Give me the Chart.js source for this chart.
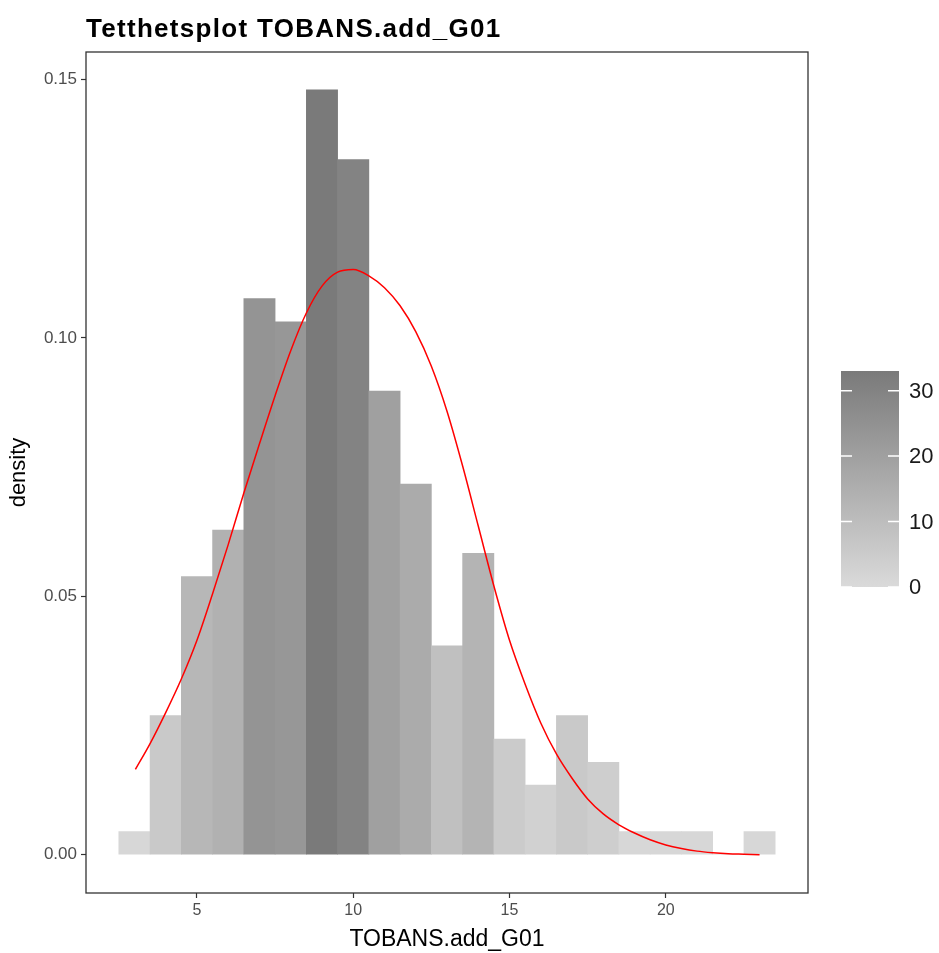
<!DOCTYPE html>
<html>
<head>
<meta charset="utf-8">
<script src="https://cdn.jsdelivr.net/npm/chart.js@4.4.1/dist/chart.umd.min.js"></script>
<style>
  html, body { margin: 0; padding: 0; background: #fff; }
  #wrap { width: 939px; height: 953px; }
</style>
</head>
<body>
<div id="wrap"><canvas id="myDensityPlot"></canvas></div>
<script>
// histogram bins (centres), counts and density
const binCentres = [3, 4, 5, 6, 7, 8, 9, 10, 11, 12, 13, 14, 15, 16, 17, 18, 19, 20, 21, 22, 23];
const binCounts = [1, 6, 12, 14, 24, 23, 33, 30, 20, 16, 9, 13, 5, 3, 6, 4, 1, 1, 1, 0, 1];
const binDensity = [0.0045, 0.0269, 0.0538, 0.0628, 0.1076, 0.1031, 0.1480, 0.1345, 0.0897, 0.0717,
                    0.0404, 0.0583, 0.0224, 0.0135, 0.0269, 0.0179, 0.0045, 0.0045, 0.0045, 0, 0.0045];

// red density curve
const curveX = [3.03, 3.5, 4, 4.5, 5, 5.5, 6, 6.5, 7, 7.5, 8, 8.5, 9, 9.5, 10, 10.5, 11, 11.5, 12, 12.5,
                13, 13.5, 14, 14.5, 15, 15.5, 16, 16.5, 17, 17.5, 18, 18.5, 19, 19.5, 20, 20.5, 21, 21.5, 22, 22.5, 23];
const curveY = [0.0165, 0.0215, 0.0275, 0.0340, 0.0415, 0.0505, 0.0600, 0.0700, 0.0795, 0.0888, 0.0975, 0.1048,
                0.1100, 0.1127, 0.1132, 0.1120, 0.1097, 0.1062, 0.1012, 0.0945, 0.0858, 0.0752, 0.0636, 0.0520,
                0.0415, 0.0330, 0.0255, 0.0195, 0.0148, 0.0108, 0.0079, 0.0058, 0.0042, 0.0029, 0.0019, 0.0012,
                0.0007, 0.0004, 0.0002, 0.0001, 0.0];

const xTicks = [5, 10, 15, 20];
const yTicks = [0, 0.05, 0.10, 0.15];
const legendTicks = [0, 10, 20, 30];
const countMax = 33;

const FONT = '"Liberation Sans", Arial, sans-serif';

function greyFor(count) {
    // low grey at 0, dark grey at max count
    var lo = 218, hi = 122;
    var v = Math.round(lo + (hi - lo) * count / countMax);
    return 'rgb(' + v + ',' + v + ',' + v + ')';
}

// panel border, title and the colourbar legend
const extras = {
    id: 'extras',
    afterDraw(chart) {
        const ctx = chart.ctx;
        const a = chart.chartArea;
        ctx.save();
        ctx.strokeStyle = '#333333';
        ctx.lineWidth = 1.3;
        ctx.strokeRect(a.left, a.top, a.right - a.left, a.bottom - a.top);

        ctx.fillStyle = '#000';
        ctx.font = 'bold 26px ' + FONT;
        ctx.textBaseline = 'alphabetic';
        ctx.textAlign = 'left';
        if ('letterSpacing' in ctx) ctx.letterSpacing = '1.3px';
        ctx.fillText('Tetthetsplot TOBANS.add_G01', 86, 37);
        if ('letterSpacing' in ctx) ctx.letterSpacing = '0px';

        // colourbar
        const bx = 841, bw = 58, top = 371, bottom = 587;
        const grad = ctx.createLinearGradient(0, bottom, 0, top);
        grad.addColorStop(0, greyFor(0));
        grad.addColorStop(1, greyFor(countMax));
        ctx.fillStyle = grad;
        ctx.fillRect(bx, top, bw, bottom - top);
        ctx.strokeStyle = '#ffffff';
        ctx.lineWidth = 1.5;
        ctx.font = '22px ' + FONT;
        ctx.fillStyle = '#1a1a1a';
        ctx.textBaseline = 'middle';
        legendTicks.forEach(function (t) {
            var y = bottom - (bottom - top) * t / countMax;
            ctx.beginPath();
            ctx.moveTo(bx, y); ctx.lineTo(bx + 11, y);
            ctx.moveTo(bx + bw - 11, y); ctx.lineTo(bx + bw, y);
            ctx.stroke();
            ctx.fillText(String(t), 909, y + 1);
        });
        ctx.restore();
    }
};

var ctx = document.getElementById('myDensityPlot').getContext('2d');
var myDensityPlot = new Chart(ctx, {
    type: 'bar',
    data: {
        datasets: [{
            type: 'line',
            data: curveX.map(function (x, i) { return { x: x, y: curveY[i] }; }),
            borderColor: '#ff0000',
            borderWidth: 1.5,
            pointRadius: 0,
            cubicInterpolationMode: 'monotone',
            fill: false,
            order: 0
        }, {
            type: 'bar',
            data: binCentres.map(function (x, i) { return { x: x, y: binDensity[i] }; }),
            backgroundColor: binCounts.map(greyFor),
            borderWidth: 0,
            barPercentage: 1.0,
            categoryPercentage: 1.0,
            order: 1
        }]
    },
    plugins: [extras],
    options: {
        responsive: true,
        maintainAspectRatio: false,
        animation: false,
        layout: { padding: { left: 4, top: 52, right: 131, bottom: 0 } },
        plugins: {
            legend: { display: false },
            tooltip: { enabled: false }
        },
        scales: {
            x: {
                type: 'linear',
                min: 1.45,
                max: 24.55,
                offset: false,
                afterFit: function (scale) { scale.height = 953 - 893; },
                afterBuildTicks: function (scale) { scale.ticks = xTicks.map(function (v) { return { value: v }; }); },
                grid: { display: true, offset: false, drawOnChartArea: false, tickLength: 5, tickColor: '#333333', tickWidth: 1.2 },
                border: { display: false },
                ticks: { color: '#4D4D4D', font: { family: FONT, size: 16 }, padding: 3, maxRotation: 0 },
                title: { display: true, text: 'TOBANS.add_G01', color: '#000', font: { family: FONT, size: 23 }, padding: { top: 0, bottom: 0 } }
            },
            y: {
                type: 'linear',
                min: -0.0074,
                max: 0.1553,
                afterFit: function (scale) { scale.width = 86 - 4; },
                afterBuildTicks: function (scale) { scale.ticks = yTicks.map(function (v) { return { value: v }; }); },
                grid: { display: true, offset: false, drawOnChartArea: false, tickLength: 5, tickColor: '#333333', tickWidth: 1.2 },
                border: { display: false },
                ticks: {
                    color: '#4D4D4D', font: { family: FONT, size: 17 }, padding: 4,
                    callback: function (v) { return v.toFixed(2); }
                },
                title: { display: true, text: 'density', color: '#000', font: { family: FONT, size: 22 }, padding: { top: 2, bottom: 0 } }
            }
        }
    }
});
</script>
</body>
</html>
